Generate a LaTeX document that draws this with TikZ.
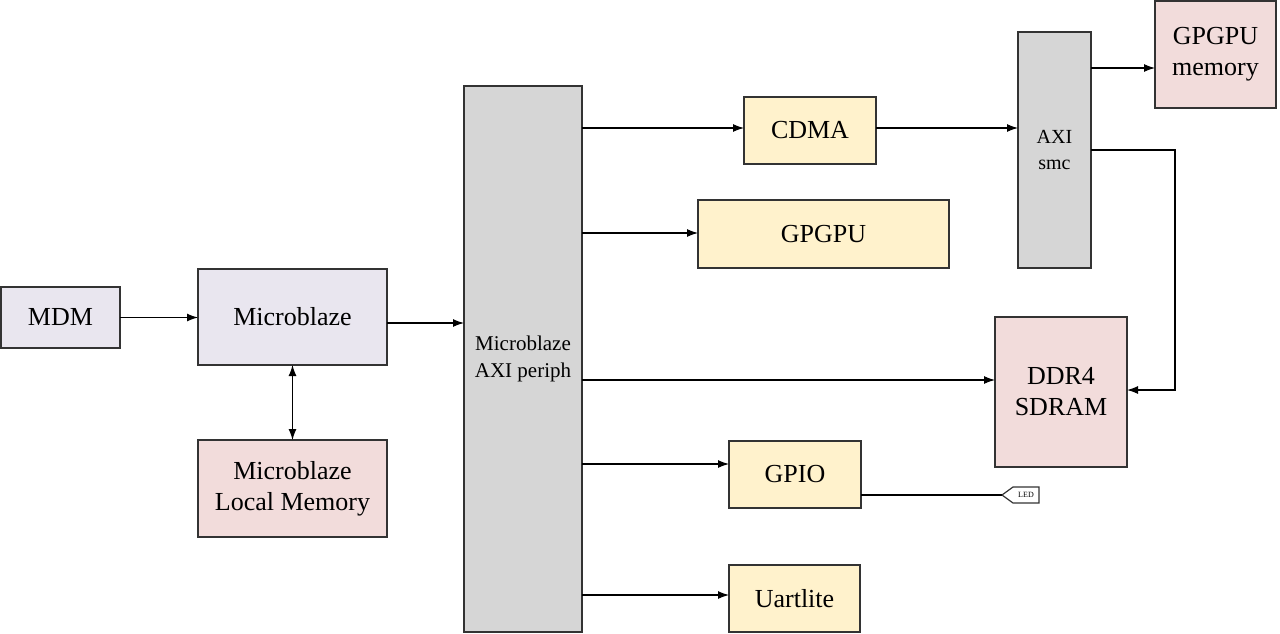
\documentclass[tikz,border=0pt]{standalone}
\usepackage{fontspec}
\setmainfont{Liberation Serif}
\usetikzlibrary{arrows.meta}
\definecolor{lav}{HTML}{E9E6EF}
\definecolor{pinkm}{HTML}{F2DCDB}
\definecolor{grayb}{HTML}{D6D6D6}
\definecolor{yel}{HTML}{FFF2CC}
\definecolor{edge}{HTML}{333333}
\tikzset{
  blk/.style={draw=edge, line width=1.2pt, inner sep=0pt, outer sep=0pt, align=center, font=\fontsize{26}{31}\selectfont},
  arr/.style={line width=1.1pt, -{Latex[length=11pt,width=8pt]}},
  biarr/.style={line width=1.1pt, {Latex[length=11pt,width=8pt]}-{Latex[length=11pt,width=8pt]}},
  wire/.style={line width=1.1pt},
}
\begin{document}
\begin{tikzpicture}[x=1pt,y=-1pt]
\useasboundingbox (0,0) rectangle (1280,633);
\node[blk, fill=lav, minimum width=119pt, minimum height=61pt] (mdm) at (60.5,317.5) {MDM};
\node[blk, fill=lav, minimum width=189pt, minimum height=96pt] (mb) at (292.5,317) {Microblaze};
\node[blk, fill=pinkm, minimum width=189pt, minimum height=97pt] (lmem) at (292.5,488.5) {Microblaze\\Local Memory};
\node[blk, fill=grayb, minimum width=118pt, minimum height=546pt, font=\fontsize{21}{27}\selectfont] (periph) at (523,359) {Microblaze\\AXI periph};
\node[blk, fill=yel, minimum width=132pt, minimum height=67pt] (cdma) at (810,130.5) {CDMA};
\node[blk, fill=yel, minimum width=251pt, minimum height=68pt] (gpgpu) at (823.5,234) {GPGPU};
\node[blk, fill=grayb, minimum width=73pt, minimum height=236pt, font=\fontsize{20}{26}\selectfont] (smc) at (1054.5,150) {AXI\\smc};
\node[blk, fill=pinkm, minimum width=121pt, minimum height=107pt] (gmem) at (1215.5,54.5) {GPGPU\\memory};
\node[blk, fill=pinkm, minimum width=132pt, minimum height=150pt] (ddr) at (1061,392) {DDR4\\SDRAM};
\node[blk, fill=yel, minimum width=132pt, minimum height=67pt] (gpio) at (795,474.5) {GPIO};
\node[blk, fill=yel, minimum width=131pt, minimum height=67pt] (uart) at (794.5,598.5) {Uartlite};
% LED port
\coordinate (ledtip) at (1002,495);
\draw[draw=edge, line width=1.2pt, fill=white] (ledtip) -- (1013,487) -- (1039,487) -- (1039,503) -- (1013,503) -- cycle;
\node[font=\fontsize{8}{9}\selectfont, inner sep=0pt] (led) at (1026,495) {LED};
% connectors
\draw[arr] (mdm.east) -- (mb.west |- mdm.east);
\coordinate (ymb) at (0,323);
\draw[arr] (mb.east |- ymb) -- (periph.west |- ymb);
\draw[biarr] (mb.south) -- (lmem.north);
\coordinate (ycdma) at (0,128);
\draw[arr] (periph.east |- ycdma) -- (cdma.west |- ycdma);
\draw[arr] (cdma.east |- ycdma) -- (smc.west |- ycdma);
\coordinate (ygpgpu) at (0,233);
\draw[arr] (periph.east |- ygpgpu) -- (gpgpu.west |- ygpgpu);
\coordinate (yddr) at (0,380);
\draw[arr] (periph.east |- yddr) -- (ddr.west |- yddr);
\coordinate (ygpio) at (0,464);
\draw[arr] (periph.east |- ygpio) -- (gpio.west |- ygpio);
\coordinate (yuart) at (0,595);
\draw[arr] (periph.east |- yuart) -- (uart.west |- yuart);
\coordinate (ygmem) at (0,68);
\draw[arr] (smc.east |- ygmem) -- (gmem.west |- ygmem);
\coordinate (bend) at (1175,150);
\coordinate (yddr2) at (0,390);
\draw[arr] (smc.east |- bend) -- (bend) -- (bend |- yddr2) -- (ddr.east |- yddr2);
\draw[wire] (gpio.east |- ledtip) -- (ledtip);
\end{tikzpicture}
\end{document}
